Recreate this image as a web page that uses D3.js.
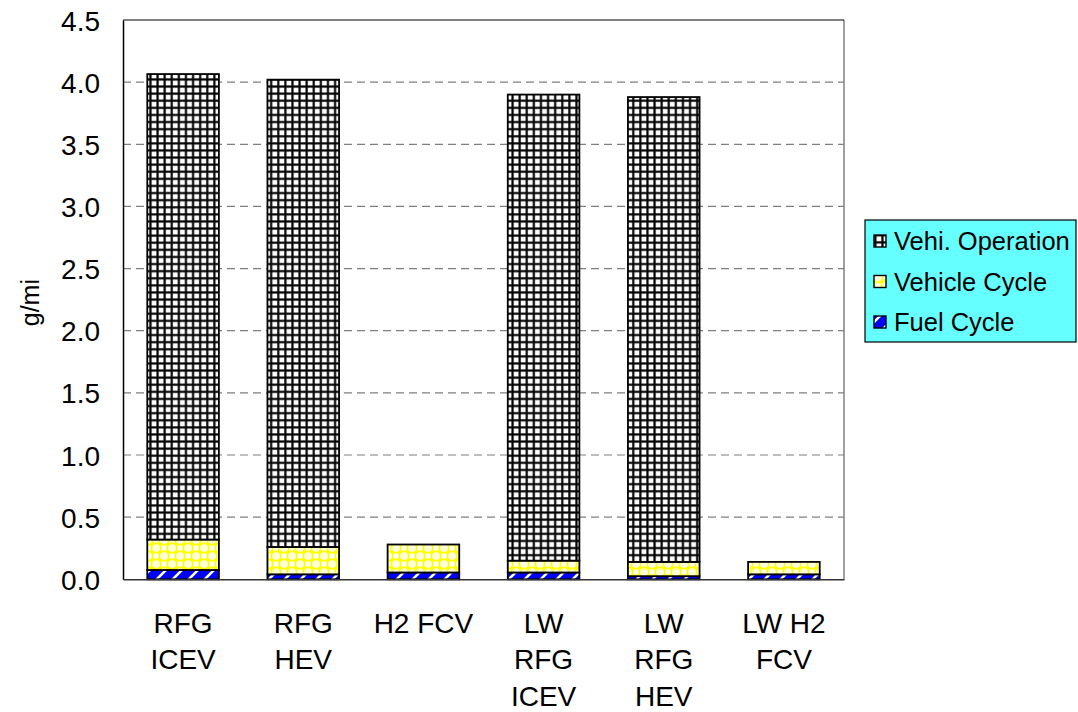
<!DOCTYPE html>
<html>
<head>
<meta charset="utf-8">
<script src="https://cdn.jsdelivr.net/npm/d3@7/dist/d3.min.js"></script>
<style>
  html, body { margin: 0; padding: 0; background: #fff; }
  svg { display: block; font-family: Arial, "Liberation Sans", sans-serif; }
</style>
</head>
<body>
<svg id="chart" width="1078" height="712"></svg>
<script>
// Emissions per mile by vehicle/fuel pathway, stacked by life-cycle stage
const categories = ["RFG\nICEV", "RFG\nHEV", "H2 FCV", "LW\nRFG\nICEV", "LW\nRFG\nHEV", "LW H2\nFCV"];
const fuelCycle      = [0.075, 0.04, 0.055, 0.055, 0.025, 0.04];
const vehicleCycle   = [0.245, 0.22, 0.225, 0.095, 0.115, 0.10];
const vehiOperation  = [3.745, 3.76, 0.0,   3.75,  3.74,  0.0];
const seriesNames    = ["Fuel Cycle", "Vehicle Cycle", "Vehi. Operation"];
const yTicks         = [0, 0.5, 1.0, 1.5, 2.0, 2.5, 3.0, 3.5, 4.0, 4.5];
const yLabel         = "g/mi";

const svg = d3.select("#chart");
const plot = { left: 123, right: 844, top: 20, bottom: 579.3 };

// ---- fill patterns ----
const defs = svg.append("defs");

// small black grid (vehicle operation)
const P = 7.1;
const pg = defs.append("pattern").attr("id", "pat-grid")
  .attr("patternUnits", "userSpaceOnUse").attr("width", P).attr("height", P);
pg.append("rect").attr("width", P).attr("height", P).attr("fill", "#fff");
pg.append("rect").attr("x", 0).attr("y", 0).attr("width", P).attr("height", 2.8).attr("fill", "#b0b0b0");
pg.append("rect").attr("x", 0).attr("y", 0).attr("width", 2.8).attr("height", P).attr("fill", "#b0b0b0");
pg.append("rect").attr("x", 0.4).attr("y", 0).attr("width", 1.9).attr("height", P).attr("fill", "#000");
pg.append("rect").attr("x", 0).attr("y", 0.4).attr("width", P).attr("height", 1.9).attr("fill", "#000");

// yellow checker with white rings (vehicle cycle)
const py = defs.append("pattern").attr("id", "pat-yellow")
  .attr("patternUnits", "userSpaceOnUse").attr("width", 16).attr("height", 16);
py.append("rect").attr("width", 16).attr("height", 16).attr("fill", "#ffff00");
[[4, 4], [12, 12]].forEach(([cx, cy]) => {
  py.append("rect").attr("x", cx - 2.5).attr("y", cy - 2.5).attr("width", 5).attr("height", 5).attr("fill", "#ffffff");
});
[[12, 4], [4, 12]].forEach(([cx, cy]) => {
  py.append("circle").attr("cx", cx).attr("cy", cy).attr("r", 3.8).attr("fill", "#ffffff");
  py.append("circle").attr("cx", cx - 0.6).attr("cy", cy - 0.6).attr("r", 2.2).attr("fill", "none")
    .attr("stroke", "#ffff90").attr("stroke-width", 0.9);
});

// blue with white diagonal stripes (fuel cycle)
const pb = defs.append("pattern").attr("id", "pat-blue")
  .attr("patternUnits", "userSpaceOnUse").attr("width", 16).attr("height", 16);
pb.append("rect").attr("width", 16).attr("height", 16).attr("fill", "#0000ff");
pb.append("path").attr("d", "M-2,18 L18,-2 M-4,4 L4,-4 M12,20 L20,12")
  .attr("stroke", "#fff").attr("stroke-width", 2.6);

const fills = { "Fuel Cycle": "url(#pat-blue)", "Vehicle Cycle": "url(#pat-yellow)", "Vehi. Operation": "url(#pat-grid)" };

// ---- scales ----
const x = d3.scaleBand().domain(categories).range([plot.left, plot.right])
  .paddingInner(0.404).paddingOuter(0.202);
const y = d3.scaleLinear().domain([0, 4.5]).range([plot.bottom, plot.top]);

// ---- gridlines ----
svg.append("g").selectAll("line").data(yTicks.filter(t => t > 0 && t < 4.5)).join("line")
  .attr("x1", plot.left).attr("x2", plot.right)
  .attr("y1", d => y(d)).attr("y2", d => y(d))
  .attr("stroke", "#7f7f7f").attr("stroke-width", 1.2).attr("stroke-dasharray", "8,5");

// ---- stacked bars ----
const rows = categories.map((c, i) => ({
  cat: c,
  "Fuel Cycle": fuelCycle[i],
  "Vehicle Cycle": vehicleCycle[i],
  "Vehi. Operation": vehiOperation[i]
}));
const stacked = d3.stack().keys(seriesNames)(rows);

const gBars = svg.append("g");
stacked.forEach(layer => {
  gBars.append("g").selectAll("rect")
    .data(layer.filter(d => d[1] - d[0] > 0))
    .join("rect")
    .attr("x", d => x(d.data.cat))
    .attr("width", x.bandwidth())
    .attr("y", d => y(d[1]))
    .attr("height", d => y(d[0]) - y(d[1]))
    .attr("fill", fills[layer.key])
    .attr("stroke", "#000").attr("stroke-width", 1.8);
});

// ---- plot frame ----
svg.append("line").attr("x1", plot.right).attr("x2", plot.right)
  .attr("y1", plot.top).attr("y2", plot.bottom).attr("stroke", "#808080").attr("stroke-width", 1.5);
svg.append("line").attr("x1", plot.left).attr("x2", plot.right)
  .attr("y1", plot.top).attr("y2", plot.top).attr("stroke", "#000").attr("stroke-width", 1.2);

// ---- axes ----
const yAxis = d3.axisLeft(y).tickValues(yTicks).tickFormat(d3.format(".1f")).tickSize(0).tickPadding(23);
const gy = svg.append("g").attr("transform", `translate(${plot.left},0)`).call(yAxis);
gy.select(".domain").attr("stroke", "#000").attr("stroke-width", 1.5);
gy.selectAll("text").attr("font-size", 28).attr("fill", "#000")
  .attr("font-family", "Arial, 'Liberation Sans', sans-serif").attr("dy", "0.36em");

const xAxis = d3.axisBottom(x).tickSize(0).tickFormat("");
const gx = svg.append("g").attr("transform", `translate(0,${plot.bottom})`).call(xAxis);
gx.select(".domain").attr("stroke", "#333").attr("stroke-width", 1.5);

// multi-line category labels
gx.selectAll(".tick").each(function(d) {
  const t = d3.select(this).append("text")
    .attr("text-anchor", "middle").attr("fill", "#000")
    .attr("font-size", 28).attr("font-family", "Arial, 'Liberation Sans', sans-serif");
  d.split("\n").forEach((line, i) => {
    t.append("tspan").attr("x", 0).attr("y", 53.5 + i * 36.5).text(line);
  });
});

// y axis title
svg.append("text")
  .attr("transform", `translate(39,${(plot.top + plot.bottom) / 2 + 3}) rotate(-90)`)
  .attr("text-anchor", "middle").attr("font-size", 25).attr("fill", "#000")
  .text(yLabel);

// ---- legend ----
const legend = svg.append("g").attr("transform", "translate(865,220)");
legend.append("rect").attr("width", 211).attr("height", 122)
  .attr("fill", "#66ffff").attr("stroke", "#000").attr("stroke-width", 1.2);
const legendOrder = seriesNames.slice().reverse();
legendOrder.forEach((name, i) => {
  const row = legend.append("g").attr("transform", `translate(9,${21 + i * 40.5})`);
  row.append("rect").attr("x", 0).attr("y", -6).attr("width", 12).attr("height", 12)
    .attr("fill", fills[name]).attr("stroke", "#000").attr("stroke-width", 1.4);
  row.append("text").attr("x", 20).attr("y", 0).attr("dy", "0.36em")
    .attr("font-size", 25.5).attr("fill", "#000").text(name);
});
</script>
</body>
</html>
